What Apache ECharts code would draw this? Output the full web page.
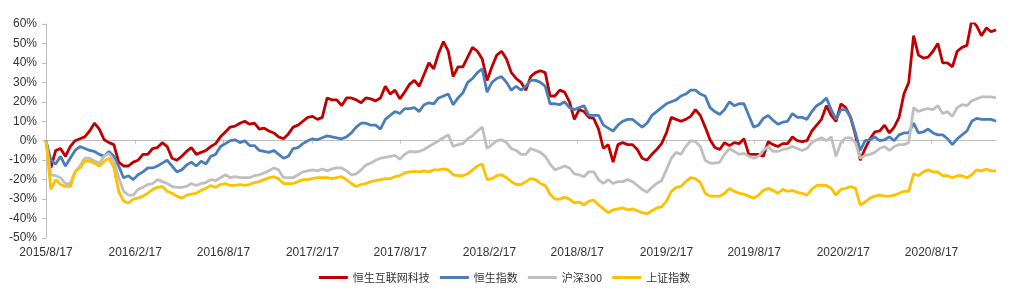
<!DOCTYPE html>
<html>
<head>
<meta charset="utf-8">
<script src="https://cdn.jsdelivr.net/npm/echarts@6/dist/echarts.min.js"></script>
<style>
html,body{margin:0;padding:0;background:#fff;}
#chart{width:1009px;height:300px;}
</style>
</head>
<body>
<div id="chart"></div>
<script>
// Sample grid: one point every 10 calendar days from 2015/8/17
const START_DATE = '2015/8/17';
const STEP_DAYS = 10;

// X-axis tick labels (every 6 months)
const tickLabels = ['2015/8/17','2016/2/17','2016/8/17','2017/2/17','2017/8/17','2018/2/17',
  '2018/8/17','2019/2/17','2019/8/17','2020/2/17','2020/8/17'];

// Y-axis ticks (%)
const yTicks = [-50,-40,-30,-20,-10,0,10,20,30,40,50,60];

const seriesNames = ['恒生互联网科技','恒生指数','沪深300','上证指数'];

// 恒生互联网科技 cumulative return (%)
const hsTech = [0,-14,-5,-4,-8,-3,0,1,2,5,9,6,0.5,-1,-2,-11,-13,-13,-11,-10,
  -7,-7,-4,-3.5,-1,-3,-9,-10,-8,-5.5,-3.5,-7,-6,-5,-3,-1.5,2,4.5,7,7.5,
  9,10,8.5,9,6,6.5,5,4,2,1,3.5,7,8,10,12,12.5,11,12,22,21,
  21,18,22,22,21,19.5,22,21.5,20.5,22,28,24,26,21.5,25,29,31,28,34,40,
  37,45,51,46,33,38,38,43,48,46,42,31,38,44,46,42,35,32,30,26,
  33,35,36,35,23,23,26,25,20,11,16,15,12,11.5,6,-4,-2,-11,-2,-1,
  -2,-2,-4.5,-9,-10,-7,-4.5,-1.5,4,12,11,10,11,12.5,16,13,7,0.5,-3.5,-4.5,
  -1,-2.5,-1,-1.5,1,-7,-7,-7,-8,-0.5,-2,-3,-1.5,-1.5,2,0,-0.5,0,5,8,
  11,18,13,10,19,17,12,3,-10,-4,1,4.5,5,8,4,7,12,24,30,54,
  44,42.5,43,46,50,40,40,38,46,48,49,62,59,54,58,56,57];

// 恒生指数 cumulative return (%)
const hsi = [0,-10,-12,-8,-13,-9,-5,-3,-4,-5,-5.5,-7,-8,-5.5,-8,-13,-19,-18,-20,-17.5,
  -16,-14,-14,-13,-11.5,-10,-13,-16,-15,-12.5,-11,-13,-10.5,-12,-8,-7,-3,-1.5,0,0.5,
  -1,0,-2.5,-2.5,-5,-5.5,-6,-5,-7,-9,-8,-4,-3.5,-1.5,0,1,0.5,1.5,2.5,2,
  1.5,1,2,4,7,9,9,8,8,6,11,13,15,14,16.5,16.5,17,15,18.5,19.5,
  19,22,23,24,18.5,22,24.5,30,32,35,37,25,30,32,33,30,26,28,26,28,
  31,31,30,28,19,19,18.5,20,17,16,17,18,13,13,13,8,6.5,5,8,10,
  11,11,9,7,9,13,15,17,19,20,21,23,24,26,26,24,23,17,15,13.5,
  16,20,18,19,19,13,7,8,11.5,13,10.5,8.5,9.5,10,14,12,12,11,15,18,
  19.5,22,16,11,16,16,12,4,-5,0,0.5,2,0,0.5,2,0,3,4,4,9,
  4,4.5,6,4,3,3,1,-2,1,3,5,10,11.5,11,11,11,10];

// 沪深300 cumulative return (%)
const csi300 = [0,-17.5,-18,-19,-22,-22,-16,-13,-9,-9,-10.5,-11.5,-8,-6.5,-10.5,-19,-26,-28,-28,-25,
  -24,-22.5,-22,-20,-21,-22,-23.5,-24,-24,-23.5,-22,-23,-22,-21.5,-20,-20.5,-19,-17.5,-19,-18.5,
  -19,-19,-19,-18,-17.5,-16.5,-15.5,-14,-15,-19,-19,-19,-17.5,-16,-15.5,-15,-15.5,-14.5,-15.5,-14.5,
  -14,-14,-15.5,-17.5,-17,-15,-12.5,-11.5,-10,-9,-8.5,-8,-7.5,-9.5,-7,-5.5,-5.8,-5.5,-4.5,-3,
  -1.5,0,1.5,3,-3,-2,-1.5,1,2.5,5,7,-4,-2,0,0.5,-1,-4,-5,-7,-7,
  -4,-5,-6,-8,-12,-15,-14,-13,-14,-17,-17.5,-18.5,-16,-16,-20,-22,-20,-22,-21,-21,
  -20,-21,-23,-25,-26.5,-24,-22,-20.5,-15,-9,-6,-7,-3,0,-0.5,-3,-10,-11.5,-11.5,-11,
  -7,-4,-5.5,-7,-6.5,-8,-9,-8,-5,-3,-5.5,-5.5,-4.5,-4,-3,-4,-5,-4,-1,0.5,
  1.5,0,2,-8,-1,1.5,1.5,-1,-9,-7.5,-7,-6,-4,-3,-5,-3,-2,-2,-1,17,
  15,16,16.5,16,18,14,15,12.5,17,18.5,18,20.5,21.5,22.5,22.5,22.5,22];

// 上证指数 cumulative return (%)
const sse = [0,-25,-20,-22.5,-23.5,-23.5,-16,-14,-10.5,-10.5,-11.5,-13,-10.5,-9,-14,-26,-31,-32,-30,-29.5,
  -28.5,-27,-25,-24,-23.5,-26,-27,-28.5,-29.5,-28,-27.5,-27,-25.5,-24.5,-23,-24,-22.5,-22,-23,-23,
  -22.5,-23,-22.5,-21.5,-21,-20,-19,-18.5,-19.5,-22,-22,-22,-21,-20,-20,-19.5,-19,-19,-19,-19.5,
  -19,-18.5,-20,-22,-23.5,-22.5,-22,-21,-20.5,-20,-19.5,-19.5,-18.5,-18,-16.5,-16,-15.8,-16,-15.5,-16,
  -15,-15,-14.5,-15,-17.5,-18,-18,-17,-15,-13,-12,-20,-19.5,-18,-17.5,-19,-21,-22.5,-22.5,-21,
  -19.5,-20,-22,-23,-27.5,-30,-30,-29,-30,-32,-31.5,-33,-31,-30.5,-33,-35,-37,-35.5,-35,-34.5,
  -35.5,-35,-36,-37,-37.5,-36,-34.5,-34,-31,-26,-24,-23.5,-21,-19,-19.5,-21.5,-27,-28.5,-28.5,-28.5,
  -27,-24.5,-26,-27,-27.5,-28.5,-29.5,-28,-25.5,-24.5,-25.5,-27,-25,-26,-25.5,-26.5,-27,-28,-25,-23,
  -23,-23,-24.5,-28,-25,-24.5,-23.5,-24.5,-33,-31.5,-29.5,-28.5,-28,-28.5,-28.5,-28,-27,-26,-26,-17,
  -18,-16,-15,-16,-16,-18,-18,-19,-18,-18,-19,-17.5,-15,-15.5,-14.5,-15.5,-15.5];

const colors = ['#C00000','#4A7EBB','#BFBFBF','#FFC000'];

const DAY = 86400000;
function parseYMD(s){ const p = s.split('/').map(Number); return Date.UTC(p[0], p[1]-1, p[2]); }
const t0 = parseYMD(START_DATE);
// x = calendar days since start
const dayX = hsTech.map((_, i) => i * STEP_DAYS);
const tickDays = tickLabels.map(s => Math.round((parseYMD(s) - t0) / DAY));
function labelFor(v){ const k = tickDays.indexOf(Math.round(v)); return k >= 0 ? tickLabels[k] : ''; }

const allValues = [hsTech, hsi, csi300, sse];
const FONT = '"Liberation Sans", Arial, "Noto Sans CJK SC", sans-serif';
const xMax = dayX[dayX.length - 1];

const chart = echarts.init(document.getElementById('chart'), null, {renderer:'canvas'});
chart.setOption({
  animation: false,
  backgroundColor: '#ffffff',
  grid: { left: 46, right: 13, top: 24, bottom: 62, containLabel: false },
  legend: {
    data: seriesNames,
    bottom: 12,
    left: 'center',
    icon: 'rect',
    itemWidth: 29,
    itemHeight: 3,
    itemGap: 10,
    textStyle: { fontSize: 11, color: '#333333', fontFamily: '"Noto Sans CJK SC", sans-serif' }
  },
  xAxis: [{
    type: 'value',
    min: 0,
    max: xMax,
    axisLine: { onZero: true, lineStyle: { color: '#BFBFBF', width: 1 } },
    axisTick: { show: true, length: 3, customValues: tickDays, lineStyle: { color: '#BFBFBF' } },
    axisLabel: { show: false },
    splitLine: { show: false }
  }, {
    type: 'value',
    position: 'bottom',
    min: 0,
    max: xMax,
    axisLine: { show: false, onZero: false },
    axisTick: { show: false },
    splitLine: { show: false },
    axisLabel: {
      show: true, customValues: tickDays, margin: 9,
      formatter: v => labelFor(v),
      color: '#333333', fontSize: 12, fontFamily: FONT,
      hideOverlap: false, showMinLabel: true, showMaxLabel: true
    }
  }],
  yAxis: {
    type: 'value',
    min: yTicks[0], max: yTicks[yTicks.length - 1], interval: 10,
    axisLine: { show: true, lineStyle: { color: '#BFBFBF' } },
    axisTick: { show: true, length: 4, lineStyle: { color: '#BFBFBF' } },
    splitLine: { show: false },
    axisLabel: { formatter: '{value}%', color: '#333333', fontSize: 12, fontFamily: FONT, margin: 9 }
  },
  series: seriesNames.map((name, k) => ({
    name,
    type: 'line',
    xAxisIndex: 0,
    data: allValues[k].map((v, i) => [dayX[i], v]),
    showSymbol: false,
    symbol: 'none',
    lineStyle: { width: 2.8, color: colors[k] },
    itemStyle: { color: colors[k] },
    emphasis: { disabled: true },
    z: 2 + k
  }))
});
</script>
</body>
</html>
